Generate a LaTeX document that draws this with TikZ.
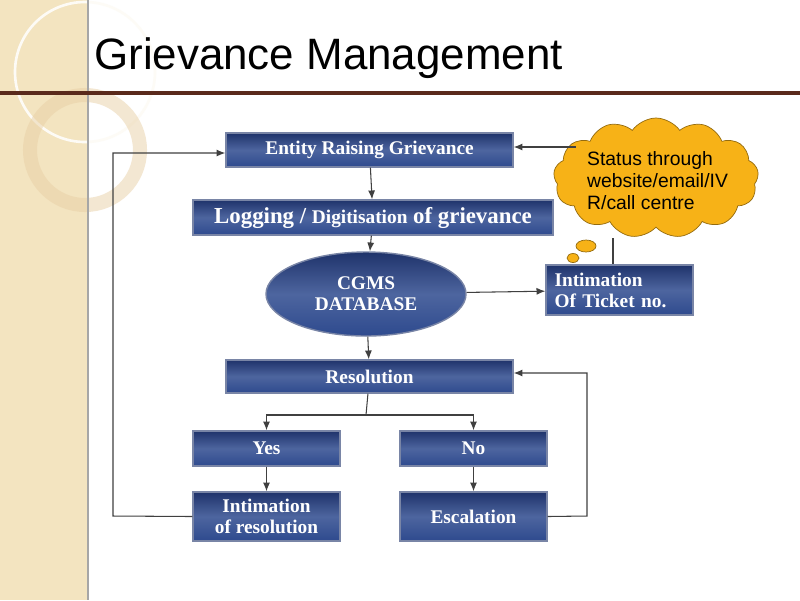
\documentclass[tikz,border=0pt]{standalone}
\usepackage{fontspec}
\setmainfont{Liberation Serif}
\newfontfamily\arialf{Liberation Sans}
\usetikzlibrary{shapes.geometric,shapes.symbols,arrows.meta}
\definecolor{beige}{HTML}{F3E4C0}
\definecolor{navy}{HTML}{2E4A8E}
\definecolor{navyd}{HTML}{1F336B}
\definecolor{cloudc}{HTML}{F7B217}
\definecolor{brownl}{HTML}{5A2A1C}
\tikzset{
 bx/.style={draw=navyd!60,line width=0.8pt,top color=navyd,bottom color=navy,middle color=navy!85,text=white,font=\bfseries\fontsize{11}{12}\selectfont,align=center,inner sep=0pt},
 ln/.style={draw=black!75,line width=0.6pt},
 ar/.style={ln,-{Latex[length=5pt,width=4pt]}}
}
\begin{document}
\begin{tikzpicture}[x=0.02cm,y=-0.02cm]
\useasboundingbox (0,0) rectangle (800,600);
\fill[white] (0,0) rectangle (800,600);
\fill[beige] (0,0) rectangle (88,600);
\draw[white!85!beige,line width=1.5pt] (85,72) circle (70);
\draw[beige!80!brown,line width=8pt,opacity=0.5] (85,150) circle (55);
\draw[black!35,line width=0.8pt] (88,0) -- (88,600);
\fill[brownl] (0,91) rectangle (800,95);
\node[anchor=west,font=\arialf\fontsize{25}{28}\selectfont] (title) at (88,58) {Grievance Management};
% boxes
\node[bx,minimum width=287*0.02cm,minimum height=34*0.02cm] (ent) at (369.5,150) {Entity Raising Grievance};
\node[bx,minimum width=360*0.02cm,minimum height=35*0.02cm,font=\bfseries\fontsize{13}{14}\selectfont] (log) at (373,217.5) {Logging / {\fontsize{11}{12}\selectfont Digitisation} of grievance};
\node[ellipse,bx,minimum width=200*0.02cm,minimum height=84*0.02cm] (db) at (366,294) {CGMS\\DATABASE};
\node[bx,minimum width=147*0.02cm,minimum height=50*0.02cm,align=left,text width=130*0.02cm] (tick) at (619.5,290) {Intimation\\Of Ticket no.};
\node[bx,minimum width=287*0.02cm,minimum height=33*0.02cm] (res) at (369.5,376.5) {Resolution};
\node[bx,minimum width=147*0.02cm,minimum height=35*0.02cm] (yes) at (266.5,448.5) {Yes};
\node[bx,minimum width=147*0.02cm,minimum height=35*0.02cm] (no) at (473.5,448.5) {No};
\node[bx,minimum width=147*0.02cm,minimum height=49*0.02cm] (ir) at (266.5,516.5) {Intimation\\of resolution};
\node[bx,minimum width=147*0.02cm,minimum height=49*0.02cm] (esc) at (473.5,516.5) {Escalation};
% cloud
\node[cloud,cloud puffs=13,cloud puff arc=110,aspect=1.6,draw=black!40!cloudc,fill=cloudc,minimum width=205*0.02cm,minimum height=120*0.02cm] (cl) at (656,178) {};
\draw[draw=black!40!cloudc,fill=cloudc] (586,246) ellipse (10 and 6);
\draw[draw=black!40!cloudc,fill=cloudc] (573,258) ellipse (6 and 4.5);
\node[anchor=north west,align=left,font=\arialf\fontsize{11}{12.5}\selectfont] (clt) at (581,145) {Status through\\website/email/IV\\R/call centre};
% connectors
\draw[ar] (ent) -- (log);
\draw[ar] (log) -- (db);
\draw[ar] (db) -- (tick);
\draw[ar] (db) -- (res);
\coordinate (sp) at (366,415);
\draw[ln] (res) -- (sp);
\draw[ar] (sp) -| (yes);
\draw[ar] (sp) -| (no);
\draw[ar] (yes) -- (ir);
\draw[ar] (no) -- (esc);
\coordinate (l1) at (113,516);
\coordinate (l2) at (113,153);
\draw[ar] (ir.west) -- (l1) -- (l2) -- (ent.west|-l2);
\coordinate (r1) at (587,516);
\coordinate (r2) at (587,373);
\draw[ar] (esc.east) -- (r1) -- (r2) -- (res.east|-r2);
\coordinate (c1) at (576,147);
\draw[ar] (c1) -- (ent.east|-c1);
\coordinate (c2) at (613,238);
\draw[ln] (c2) -- (tick.north-|c2);
\end{tikzpicture}
\end{document}
